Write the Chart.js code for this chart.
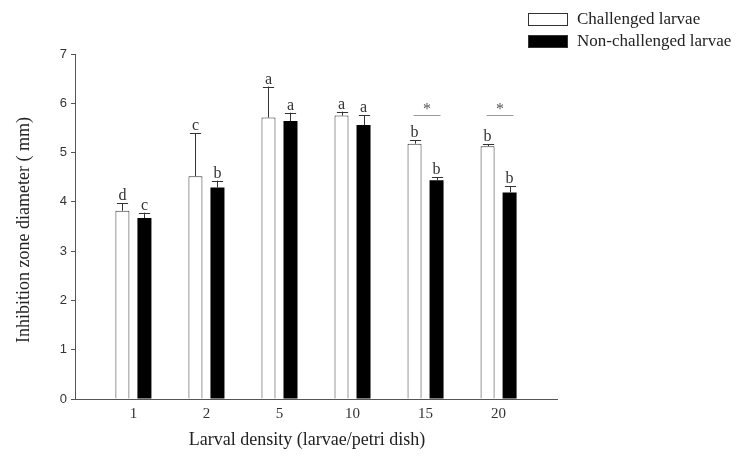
<!DOCTYPE html>
<html lang="en">
<head>
  <meta charset="UTF-8">
  <title>Inhibition zone diameter</title>
  <script src="https://cdn.jsdelivr.net/npm/chart.js"></script>
  <style>
    body { margin: 0; background: #fff; }
  </style>
</head>
<body>
  <canvas id="chart" width="749" height="458"></canvas>

  <script>
    // Values
    const categories = ['1', '2', '5', '10', '15', '20'];
    const challenged = [3.82, 4.52, 5.71, 5.75, 5.18, 5.13];
    const challengedErr = [0.15, 0.87, 0.63, 0.08, 0.07, 0.04];
    const nonChallenged = [3.67, 4.29, 5.64, 5.56, 4.44, 4.19];
    const nonChallengedErr = [0.11, 0.14, 0.17, 0.20, 0.06, 0.13];
    const challengedLetters = ['d', 'c', 'a', 'a', 'b', 'b'];
    const nonChallengedLetters = ['c', 'b', 'a', 'a', 'b', 'b'];
    const sigMarks = ['', '', '', '', '*', '*'];
    const sigLevel = 5.76;
    const yTicks = [0, 1, 2, 3, 4, 5, 6, 7];

    const serif = '"Liberation Serif", "Times New Roman", serif';
    const sans = '"Liberation Sans", Arial, sans-serif';

    const errors = [challengedErr, nonChallengedErr];
    const letters = [challengedLetters, nonChallengedLetters];

    // error bars, letters and significance marks
    const annotations = {
      id: 'annotations',
      afterDatasetsDraw(chart) {
        const ctx = chart.ctx;
        const y = chart.scales.y;
        ctx.save();
        ctx.strokeStyle = '#333';
        ctx.fillStyle = '#333';
        ctx.lineWidth = 1;
        ctx.font = '16px ' + serif;
        ctx.textAlign = 'center';
        ctx.textBaseline = 'alphabetic';
        chart.data.datasets.forEach((ds, d) => {
          chart.getDatasetMeta(d).data.forEach((bar, i) => {
            const top = y.getPixelForValue(ds.data[i].y + errors[d][i]);
            const x = Math.round(bar.x) + 0.5;
            const cap = bar.width * 0.4;
            ctx.beginPath();
            ctx.moveTo(x, bar.y);
            ctx.lineTo(x, top);
            ctx.moveTo(x - cap, Math.round(top) + 0.5);
            ctx.lineTo(x + cap, Math.round(top) + 0.5);
            ctx.stroke();
            ctx.fillText(letters[d][i], bar.x, top - 3);
          });
        });
        const white = chart.getDatasetMeta(0).data;
        const black = chart.getDatasetMeta(1).data;
        const ly = Math.round(y.getPixelForValue(sigLevel)) + 0.5;
        sigMarks.forEach((m, i) => {
          if (!m) return;
          const x0 = white[i].x - 1;
          const x1 = black[i].x + 4;
          ctx.strokeStyle = '#999';
          ctx.beginPath();
          ctx.moveTo(x0, ly);
          ctx.lineTo(x1, ly);
          ctx.stroke();
          ctx.fillStyle = '#555';
          ctx.font = '16px ' + serif;
          ctx.textBaseline = 'middle';
          ctx.fillText(m, (x0 + x1) / 2, ly - 6);
        });
        ctx.restore();
      }
    };

    // legend and axis titles
    const decorations = {
      id: 'decorations',
      afterDraw(chart) {
        const ctx = chart.ctx;
        ctx.save();
        chart.data.datasets.forEach((ds, d) => {
          const by = 13 + d * 22;
          ctx.fillStyle = ds.backgroundColor;
          ctx.fillRect(528, by, 40, 13);
          ctx.strokeStyle = '#333';
          ctx.lineWidth = 1;
          ctx.strokeRect(528.5, by + 0.5, 39, 12);
          ctx.fillStyle = '#222';
          ctx.font = '17px ' + serif;
          ctx.textAlign = 'left';
          ctx.textBaseline = 'middle';
          ctx.fillText(ds.label, 577, by + 7);
        });
        ctx.fillStyle = '#222';
        ctx.font = '18px ' + serif;
        ctx.textAlign = 'center';
        ctx.textBaseline = 'middle';
        ctx.fillText('Larval density (larvae/petri dish)', 307, 440);
        ctx.translate(24, 230);
        ctx.rotate(-Math.PI / 2);
        ctx.fillText('Inhibition zone diameter ( mm)', 0, 0);
        ctx.restore();
      }
    };

    new Chart(document.getElementById('chart'), {
      type: 'bar',
      data: {
        datasets: [
          {
            label: 'Challenged larvae',
            data: challenged.map((v, i) => ({ x: i + 1, y: v })),
            backgroundColor: '#ffffff',
            borderColor: '#333',
            borderWidth: 1
          },
          {
            label: 'Non-challenged larvae',
            data: nonChallenged.map((v, i) => ({ x: i + 1, y: v })),
            backgroundColor: '#000000',
            borderColor: '#000',
            borderWidth: 0
          }
        ]
      },
      options: {
        responsive: false,
        animation: false,
        devicePixelRatio: 1,
        categoryPercentage: 0.603,
        barPercentage: 0.636,
        layout: { padding: { left: 0, right: 192, top: 54, bottom: 0 } },
        plugins: {
          legend: { display: false },
          tooltip: { enabled: false }
        },
        scales: {
          x: {
            type: 'linear',
            offset: false,
            min: 0.2,
            max: 6.8,
            grid: { display: false, drawTicks: false },
            border: { display: true, color: '#555', width: 1 },
            afterBuildTicks: scale => {
              scale.ticks = categories.map((c, i) => ({ value: i + 1 }));
            },
            afterFit: scale => { scale.height = 59; },
            ticks: {
              padding: 6,
              color: '#333',
              font: { family: serif, size: 15 },
              callback: (v, i) => categories[i]
            }
          },
          y: {
            min: 0,
            max: 7,
            grid: { drawOnChartArea: false, drawTicks: true, tickLength: 4, color: '#555' },
            border: { display: true, color: '#555', width: 1 },
            afterBuildTicks: scale => {
              scale.ticks = yTicks.map(v => ({ value: v }));
            },
            afterFit: scale => { scale.width = 75; },
            ticks: {
              padding: 4,
              color: '#333',
              font: { family: sans, size: 13 }
            }
          }
        }
      },
      plugins: [annotations, decorations]
    });
  </script>
</body>
</html>
